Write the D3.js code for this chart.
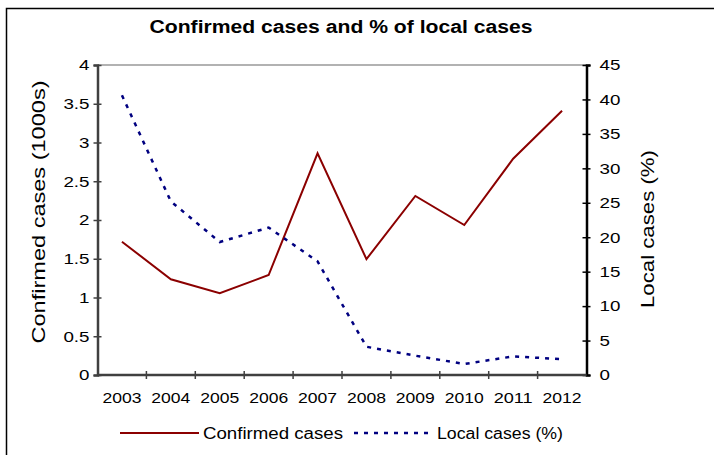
<!DOCTYPE html>
<html>
<head>
<meta charset="utf-8">
<script src="https://cdn.jsdelivr.net/npm/d3@7"></script>
<style>
  body { margin: 0; background: #fff; }
  svg { font-family: "Liberation Sans", Arial, sans-serif; }
</style>
</head>
<body>
<svg id="chart" width="714" height="455"></svg>
<script>
// data
const years = ["2003", "2004", "2005", "2006", "2007", "2008", "2009", "2010", "2011", "2012"];
const confirmed = [1.72, 1.235, 1.055, 1.29, 2.86, 1.495, 2.31, 1.935, 2.79, 3.41];   // thousands
const localPct = [40.6, 25.2, 19.3, 21.4, 16.5, 4.1, 2.8, 1.6, 2.7, 2.3];              // %
const leftTicks = [0, 0.5, 1, 1.5, 2, 2.5, 3, 3.5, 4];
const rightTicks = [0, 5, 10, 15, 20, 25, 30, 35, 40, 45];

const svg = d3.select("#chart");
const plot = { left: 97.5, right: 586.5, top: 65, bottom: 375 };

// the picture's text is drawn a bit wider than normal, stretch it
function widen(sel, f) {
  sel.each(function () {
    const w = this.getComputedTextLength();
    d3.select(this).attr("textLength", w * f).attr("lengthAdjust", "spacingAndGlyphs");
  });
}

// outer frame (only top/left visible in picture)
svg.append("rect")
  .attr("x", 6.5).attr("y", 8.5)
  .attr("width", 800).attr("height", 600)
  .attr("fill", "none").attr("stroke", "#000").attr("stroke-width", 1.5);

svg.append("text")
  .attr("x", 341).attr("y", 33)
  .attr("text-anchor", "middle")
  .style("font-size", "18px").style("font-weight", "bold")
  .attr("textLength", 383).attr("lengthAdjust", "spacingAndGlyphs")
  .text("Confirmed cases and % of local cases");

const x = d3.scaleBand().domain(years).range([plot.left, plot.right]);
const yL = d3.scaleLinear().domain([0, 4]).range([plot.bottom, plot.top]);
const yR = d3.scaleLinear().domain([0, 45]).range([plot.bottom, plot.top]);

// top border of plot area
svg.append("line")
  .attr("x1", plot.left).attr("x2", plot.right)
  .attr("y1", plot.top).attr("y2", plot.top)
  .attr("stroke", "#999").attr("stroke-width", 1.5);

// left axis
const gL = svg.append("g").attr("transform", `translate(${plot.left},0)`)
  .call(d3.axisLeft(yL).tickValues(leftTicks).tickFormat(d3.format("")).tickSize(4).tickPadding(6));
gL.selectAll(".tick line").attr("x2", 4).attr("x1", -4).attr("stroke", "#404040").attr("stroke-width", 1.5);
gL.select(".domain").attr("stroke", "#404040").attr("stroke-width", 2.5);
gL.selectAll("text").style("font-size", "15px").attr("fill", "#000").attr("x", -8).call(widen, 1.25);

// right axis
const gR = svg.append("g").attr("transform", `translate(${plot.right},0)`)
  .call(d3.axisRight(yR).tickValues(rightTicks).tickSize(4).tickPadding(6));
gR.selectAll(".tick line").attr("x1", -4).attr("x2", 4).attr("stroke", "#000").attr("stroke-width", 1.5);
gR.select(".domain").attr("stroke", "#000").attr("stroke-width", 2.5);
gR.selectAll("text").style("font-size", "15px").attr("fill", "#000").attr("x", 13).call(widen, 1.25);

// bottom axis with ticks at category boundaries
const gB = svg.append("g").attr("transform", `translate(0,${plot.bottom})`);
gB.append("line")
  .attr("x1", plot.left).attr("x2", plot.right)
  .attr("stroke", "#404040").attr("stroke-width", 2.5);
gB.selectAll(".bt").data(years.slice(1)).enter().append("line")
  .attr("x1", d => x(d)).attr("x2", d => x(d))
  .attr("y1", -4).attr("y2", 4)
  .attr("stroke", "#404040").attr("stroke-width", 1.5);
gB.selectAll(".bl").data(years).enter().append("text")
  .attr("x", d => x(d) + x.bandwidth() / 2).attr("y", 28)
  .attr("text-anchor", "middle")
  .style("font-size", "15px")
  .attr("textLength", 39).attr("lengthAdjust", "spacingAndGlyphs")
  .text(d => d);

// axis titles
svg.append("text")
  .attr("transform", "translate(45,212) rotate(-90)")
  .attr("text-anchor", "middle")
  .style("font-size", "19px")
  .attr("textLength", 263).attr("lengthAdjust", "spacingAndGlyphs")
  .text("Confirmed cases (1000s)");
svg.append("text")
  .attr("transform", "translate(654,229) rotate(-90)")
  .attr("text-anchor", "middle")
  .style("font-size", "19px")
  .attr("textLength", 158).attr("lengthAdjust", "spacingAndGlyphs")
  .text("Local cases (%)");

const cx = d => x(d) + x.bandwidth() / 2;

// series
svg.append("path")
  .datum(years.map((d, i) => [cx(d), yL(confirmed[i])]))
  .attr("d", d3.line())
  .attr("fill", "none").attr("stroke", "#8B0000").attr("stroke-width", 2);

svg.append("path")
  .datum(years.map((d, i) => [cx(d), yR(localPct[i])]))
  .attr("d", d3.line())
  .attr("fill", "none").attr("stroke", "#000080").attr("stroke-width", 2.5)
  .attr("stroke-dasharray", "4,6");

// legend
const lg = svg.append("g");
lg.append("line").attr("x1", 120).attr("x2", 199).attr("y1", 433).attr("y2", 433)
  .attr("stroke", "#8B0000").attr("stroke-width", 2);
lg.append("text").attr("x", 203).attr("y", 439).style("font-size", "16px")
  .attr("textLength", 140).attr("lengthAdjust", "spacingAndGlyphs").text("Confirmed cases");
lg.append("line").attr("x1", 354).attr("x2", 431).attr("y1", 433).attr("y2", 433)
  .attr("stroke", "#000080").attr("stroke-width", 2.5).attr("stroke-dasharray", "4,6");
lg.append("text").attr("x", 437).attr("y", 439).style("font-size", "16px")
  .attr("textLength", 126).attr("lengthAdjust", "spacingAndGlyphs").text("Local cases (%)");
</script>
</body>
</html>
